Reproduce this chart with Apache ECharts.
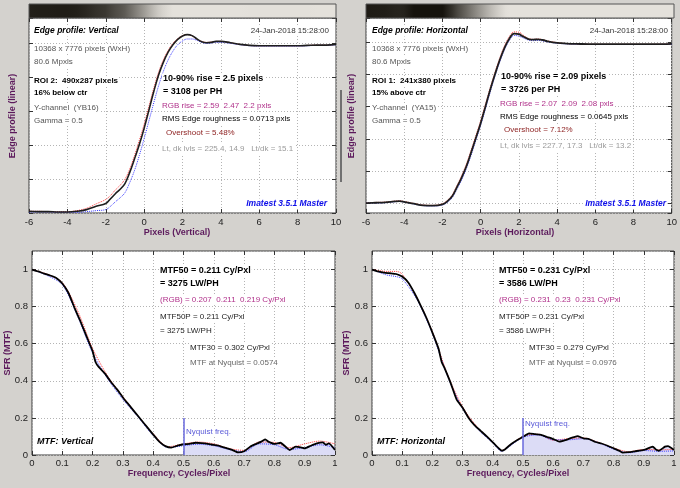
<!DOCTYPE html>
<html><head><meta charset="utf-8">
<script src="https://cdn.jsdelivr.net/npm/echarts@6/dist/echarts.min.js"></script>
<style>html,body{margin:0;padding:0;background:#d4d2ce;}#c{width:680px;height:488px;}</style>
</head><body><div id="c"></div>
<script>
// ---------- DATA ----------
// Edge profile, Vertical (ROI 2)
const edgeV_x = [-6,-5.5,-5,-4.5,-4,-3.5,-3,-2.5,-2,-1.75,-1.5,-1.25,-1,-0.75,-0.5,-0.25,0,0.25,0.5,0.75,1,1.25,1.5,1.75,2,2.25,2.5,2.75,3,3.25,3.5,3.75,4,4.5,5,5.5,6,6.5,7,7.5,8,8.5,9,9.5,10];
const edgeV_Y = [0.05,0.04,0.04,0.03,0.03,0.05,0.1,0.2,0.28,0.42,0.57,0.7,0.87,1.2,1.6,2.02,2.5,3.04,3.58,4.07,4.45,4.75,4.97,5.13,5.23,5.27,5.24,5.14,5.06,5.03,5.04,5.07,5.07,5.03,4.98,4.95,4.94,4.94,4.94,4.94,4.94,4.95,4.96,4.96,4.98];
const edgeV_R = [0.05,0.05,0.04,0.04,0.04,0.07,0.14,0.27,0.4,0.52,0.68,0.82,1.0,1.3,1.7,2.15,2.62,3.15,3.68,4.15,4.52,4.8,5.01,5.15,5.24,5.27,5.23,5.13,5.07,5.04,5.05,5.07,5.07,5.03,4.98,4.95,4.94,4.94,4.94,4.94,4.94,4.95,4.96,4.96,4.98];
const edgeV_B = [0.03,0.03,0.03,0.02,0.02,0.02,0.04,0.07,0.1,0.2,0.33,0.45,0.6,0.9,1.26,1.7,2.2,2.72,3.25,3.75,4.18,4.52,4.78,4.97,5.08,5.14,5.14,5.1,5.04,5.01,5.02,5.04,5.04,5.01,4.97,4.94,4.93,4.93,4.93,4.93,4.93,4.94,4.95,4.95,4.97];
// Edge profile, Horizontal (ROI 1)
const edgeH_x = [-6,-5.5,-5,-4.5,-4.25,-4,-3.5,-3,-2.5,-2,-1.75,-1.5,-1.25,-1,-0.75,-0.5,-0.25,0,0.25,0.5,0.75,1,1.25,1.5,1.75,2,2.25,2.5,2.75,3,3.25,3.5,4,4.5,5,6,7,8,9,10];
const edgeH_Y = [0.02,0.03,0.04,0.07,0.08,0.06,0.0,-0.05,-0.06,-0.02,0.07,0.22,0.5,0.8,1.15,1.58,2.03,2.49,3.0,3.52,4.0,4.44,4.82,5.1,5.26,5.24,5.16,5.09,5.07,5.08,5.06,5.02,4.97,4.95,4.94,4.93,4.93,4.93,4.93,4.94];
const edgeH_R = [0.03,0.04,0.05,0.08,0.09,0.07,0.01,-0.04,-0.05,0.0,0.1,0.26,0.55,0.86,1.22,1.65,2.1,2.56,3.07,3.58,4.06,4.5,4.88,5.16,5.31,5.3,5.2,5.11,5.08,5.09,5.07,5.03,4.98,4.95,4.94,4.93,4.93,4.93,4.93,4.94];
const edgeH_B = [0.02,0.02,0.03,0.06,0.07,0.05,-0.01,-0.06,-0.07,-0.04,0.04,0.18,0.44,0.73,1.08,1.5,1.96,2.42,2.93,3.45,3.94,4.38,4.76,5.04,5.2,5.18,5.12,5.06,5.04,5.05,5.03,5.0,4.96,4.94,4.93,4.92,4.92,4.92,4.92,4.93];
const edgeXTicks = [-6, 10, 2];

// MTF, Vertical
const mtfV_f = [0,0.02,0.04,0.06,0.08,0.1,0.12,0.14,0.16,0.18,0.19,0.2,0.21,0.22,0.24,0.26,0.28,0.3,0.32,0.34,0.36,0.38,0.4,0.42,0.44,0.46,0.48,0.5,0.52,0.54,0.56,0.58,0.6,0.62,0.64,0.66,0.68,0.7,0.72,0.74,0.76,0.77,0.78,0.8,0.82,0.84,0.85,0.87,0.89,0.9,0.92,0.94,0.96,0.97,0.98,1.0];
const mtfV_Y = [1.0,0.99,0.978,0.968,0.955,0.925,0.875,0.795,0.72,0.64,0.6,0.56,0.5,0.475,0.44,0.395,0.355,0.31,0.27,0.23,0.19,0.15,0.11,0.072,0.048,0.04,0.05,0.058,0.06,0.066,0.064,0.06,0.054,0.048,0.038,0.028,0.014,0.02,0.045,0.06,0.075,0.084,0.072,0.06,0.066,0.04,0.027,0.045,0.04,0.036,0.05,0.063,0.068,0.055,0.063,0.027];
const mtfV_rf = [0,0.05,0.1,0.15,0.2,0.25,0.3,0.35,0.4,0.45,0.5,0.55,0.6,0.65,0.7,0.75,0.8,0.85,0.9,0.95,1.0];
const mtfV_R = [1,0.975,0.93,0.78,0.575,0.425,0.315,0.21,0.115,0.045,0.06,0.07,0.06,0.035,0.025,0.07,0.068,0.04,0.06,0.075,0.06];
const mtfV_B = [1,0.968,0.918,0.75,0.55,0.41,0.3,0.205,0.105,0.04,0.05,0.058,0.05,0.03,0.018,0.06,0.055,0.03,0.04,0.055,0.04];

// MTF, Horizontal
const mtfH_f = [0,0.02,0.04,0.06,0.08,0.1,0.12,0.14,0.16,0.18,0.2,0.22,0.231,0.24,0.26,0.28,0.3,0.32,0.34,0.36,0.38,0.4,0.42,0.43,0.44,0.46,0.48,0.5,0.52,0.54,0.56,0.58,0.6,0.62,0.64,0.66,0.68,0.7,0.72,0.74,0.76,0.78,0.8,0.82,0.83,0.85,0.87,0.9,0.92,0.93,0.94,0.95,0.97,0.98,1.0];
const mtfH_Y = [1.0,0.99,0.983,0.98,0.976,0.962,0.93,0.875,0.81,0.74,0.66,0.575,0.5,0.47,0.39,0.3,0.255,0.2,0.16,0.13,0.1,0.068,0.035,0.023,0.03,0.058,0.08,0.098,0.117,0.112,0.108,0.097,0.086,0.072,0.08,0.092,0.102,0.09,0.085,0.07,0.062,0.05,0.036,0.022,0.013,0.015,0.02,0.027,0.04,0.045,0.03,0.023,0.045,0.048,0.027];
const mtfH_rf = [0,0.05,0.08,0.1,0.15,0.2,0.25,0.3,0.35,0.4,0.43,0.45,0.5,0.55,0.6,0.65,0.7,0.75,0.8,0.85,0.9,0.95,1.0];
const mtfH_R = [1,0.99,0.99,0.975,0.845,0.665,0.435,0.26,0.148,0.07,0.025,0.045,0.1,0.112,0.08,0.088,0.092,0.068,0.038,0.018,0.03,0.028,0.03];
const mtfH_B = [1,0.97,0.962,0.95,0.835,0.655,0.425,0.25,0.14,0.065,0.02,0.04,0.095,0.108,0.082,0.082,0.088,0.066,0.032,0.012,0.024,0.02,0.022];

const nyquist = 0.5;
const nyquistMarkTop = 0.2;

// ---------- HELPERS ----------
const FONT = '"Liberation Sans", Arial, Helvetica, sans-serif';
const zip = (a, b) => a.map((v, i) => [v, b[i]]);
const grids = [
  {left: 29, top: 18, width: 307, height: 195},
  {left: 366, top: 18, width: 308, height: 195},
  {left: 32, top: 251, width: 303, height: 204},
  {left: 372, top: 251, width: 302, height: 204}
];
const gridOpts = grids.map(g => Object.assign({show: true, borderColor: '#3a3a3a', borderWidth: 1, backgroundColor: '#ffffff', containLabel: false}, g));
const tick = {show: true, inside: true, length: 4, lineStyle: {color: '#333', width: 1}};
const split = {show: true, lineStyle: {color: '#b4b4b4', type: [1, 2], width: 1}};
const noLine = {show: false, onZero: false};

const xAxes = [], yAxes = [];
function addX(gi, min, max, interval, labelMargin) {
  xAxes.push({type: 'value', gridIndex: gi, min, max, interval, position: 'bottom',
    axisLine: noLine, axisTick: tick, splitLine: split,
    axisLabel: {show: true, color: '#222', fontSize: 9.5, fontFamily: FONT, margin: labelMargin}});
  xAxes.push({type: 'value', gridIndex: gi, min, max, interval, position: 'top',
    axisLine: noLine, axisTick: tick, splitLine: {show: false}, axisLabel: {show: false}});
  return xAxes.length - 2;
}
function addY(gi, min, max, step, showLabels) {
  const common = {type: 'value', gridIndex: gi, min, max, minInterval: step, maxInterval: step};
  yAxes.push(Object.assign({}, common, {position: 'left', axisLine: noLine, axisTick: tick, splitLine: split,
    axisLabel: {show: showLabels, color: '#222', fontSize: 9.5, fontFamily: FONT, margin: 4, showMaxLabel: false}}));
  yAxes.push(Object.assign({}, common, {position: 'right', axisLine: noLine, axisTick: tick, splitLine: {show: false}, axisLabel: {show: false}}));
  return yAxes.length - 2;
}

const x0 = addX(0, edgeXTicks[0], edgeXTicks[1], edgeXTicks[2], 4);
const y0 = addY(0, 0, 5.76, 1, false);
const x1 = addX(1, edgeXTicks[0], edgeXTicks[1], edgeXTicks[2], 4);
const y1 = addY(1, -0.287, 5.74, 1, false);
const x2 = addX(2, 0, 1, 0.1, 3);
const y2 = addY(2, 0, 1.1, 0.2, true);
const x3 = addX(3, 0, 1, 0.1, 3);
const y3 = addY(3, 0, 1.1, 0.2, true);

function lineS(xi, yi, data, color, width, type, z, smooth) {
  return {type: 'line', xAxisIndex: xi, yAxisIndex: yi, data, showSymbol: false, symbol: 'none',
    smooth: smooth, z, silent: true, animation: false,
    lineStyle: {color, width, type}};
}
function fillS(xi, yi, f, v) {
  const d = zip(f, v).filter(p => p[0] >= nyquist);
  return {type: 'line', xAxisIndex: xi, yAxisIndex: yi, data: d, showSymbol: false, symbol: 'none', z: 1,
    silent: true, animation: false, lineStyle: {width: 0, opacity: 0},
    areaStyle: {color: '#dcdcf6', opacity: 1},
    markLine: {symbol: 'none', silent: true, animation: false, label: {show: false},
      lineStyle: {color: '#6868dc', width: 1.5, type: 'solid'},
      data: [[{coord: [nyquist, 0]}, {coord: [nyquist, nyquistMarkTop]}]]}};
}

const series = [
  lineS(x0, y0, zip(edgeV_x, edgeV_R), '#ff3a3a', 1, 'dotted', 2, 0.4),
  lineS(x0, y0, zip(edgeV_x, edgeV_B), '#3a3aff', 1, 'dotted', 2, 0.4),
  lineS(x0, y0, zip(edgeV_x, edgeV_Y), '#1e1e1e', 1.6, 'solid', 3, 0.4),
  lineS(x1, y1, zip(edgeH_x, edgeH_R), '#ff3a3a', 1, 'dotted', 2, 0.4),
  lineS(x1, y1, zip(edgeH_x, edgeH_B), '#3a3aff', 1, 'dotted', 2, 0.4),
  lineS(x1, y1, zip(edgeH_x, edgeH_Y), '#1e1e1e', 1.8, 'solid', 3, 0.4),
  fillS(x2, y2, mtfV_f, mtfV_Y),
  lineS(x2, y2, zip(mtfV_rf, mtfV_R), '#ff3a3a', 1, 'dotted', 2, 0.3),
  lineS(x2, y2, zip(mtfV_rf, mtfV_B), '#3a3aff', 1, 'dotted', 2, 0.3),
  lineS(x2, y2, zip(mtfV_f, mtfV_Y), '#000000', 1.8, 'solid', 3, 0.15),
  fillS(x3, y3, mtfH_f, mtfH_Y),
  lineS(x3, y3, zip(mtfH_rf, mtfH_R), '#ff3a3a', 1, 'dotted', 2, 0.3),
  lineS(x3, y3, zip(mtfH_rf, mtfH_B), '#3a3aff', 1, 'dotted', 2, 0.3),
  lineS(x3, y3, zip(mtfH_f, mtfH_Y), '#000000', 1.8, 'solid', 3, 0.15)
];

// gradient bar (edge image) built from the edge profile
function barStops(xs, ys) {
  const xmin = xs[0], xmax = xs[xs.length - 1];
  const light = ys[ys.length - 1];
  return xs.map((x, i) => {
    const r = Math.max(0, Math.min(1, ys[i] / light));
    const c = 22 + 206 * Math.pow(r, 0.6);
    const cr = Math.round(c), cg = Math.round(c - 3), cb = Math.round(c - 9);
    return {offset: (x - xmin) / (xmax - xmin), color: 'rgb(' + cr + ',' + cg + ',' + Math.max(0, cb) + ')'};
  });
}
function bar(g, xs, ys) {
  return {type: 'rect', silent: true, z: 50, shape: {x: g.left, y: 4, width: g.width, height: 14},
    style: {fill: new echarts.graphic.LinearGradient(0, 0, 1, 0, barStops(xs, ys)), stroke: '#555', lineWidth: 1}};
}

// text inside plots (white box behind, like the original)
function T(x, y, text, font, fill, align) {
  const a = align || 'left';
  return {type: 'text', x: a === 'right' ? x + 1 : x - 1, y, silent: true, z: 100,
    style: {text, font, fill, align: a, verticalAlign: 'middle',
      textAlign: a, textVerticalAlign: 'middle',
      backgroundColor: '#ffffff', padding: [1, 1, 1, 1]}};
}
// axis names (outside plots)
function N(x, y, text, rot) {
  return {type: 'text', x, y, rotation: rot || 0, silent: true, z: 100,
    style: {text, font: 'bold 9px ' + FONT, fill: '#5c1a5c', align: 'center', verticalAlign: 'middle',
      textAlign: 'center', textVerticalAlign: 'middle'}};
}
const fR = '8px ' + FONT, fB = 'bold 8px ' + FONT, fBig = 'bold 9px ' + FONT,
  fTitle = 'italic bold 8.5px ' + FONT, fMtfT = 'italic bold 9px ' + FONT;
const cGray = '#555', cMag = '#b0308a', cRed = '#8b1c1c', cLt = '#9a9a9a', cBlue = '#0c0ce8';
const R90 = Math.PI / 2;

const graphic = [
  bar(grids[0], edgeV_x, edgeV_Y),
  bar(grids[1], edgeH_x, edgeH_Y),
  {type: 'rect', silent: true, z: 50, shape: {x: 340, y: 90, width: 2, height: 92}, style: {fill: '#707070'}},
  // top-left
  T(34, 31, 'Edge profile: Vertical', fTitle, '#000'),
  T(329, 31, '24-Jan-2018 15:28:00', fR, '#333', 'right'),
  T(34, 49, '10368 x 7776 pixels (WxH)', fR, cGray),
  T(34, 62, '80.6 Mpxls', fR, cGray),
  T(34, 81, 'ROI 2:  490x287 pixels', fB, '#000'),
  T(34, 93, '16% below ctr', fB, '#000'),
  T(34, 108, 'Y-channel  (YB16)', fR, cGray),
  T(34, 121, 'Gamma = 0.5', fR, cGray),
  T(163, 79, '10-90% rise = 2.5 pixels', fBig, '#000'),
  T(163, 92, '= 3108 per PH', fBig, '#000'),
  T(162, 106, 'RGB rise = 2.59  2.47  2.2 pxls', fR, cMag),
  T(162, 119, 'RMS Edge roughness = 0.0713 pxls', fR, '#000'),
  T(166, 133, 'Overshoot = 5.48%', fR, cRed),
  T(162, 149, 'Lt, dk lvls = 225.4, 14.9   Lt/dk = 15.1', fR, cLt),
  T(327, 204, 'Imatest 3.5.1 Master', fTitle, cBlue, 'right'),
  // top-right
  T(372, 31, 'Edge profile: Horizontal', fTitle, '#000'),
  T(668, 31, '24-Jan-2018 15:28:00', fR, '#333', 'right'),
  T(372, 49, '10368 x 7776 pixels (WxH)', fR, cGray),
  T(372, 62, '80.6 Mpxls', fR, cGray),
  T(372, 81, 'ROI 1:  241x380 pixels', fB, '#000'),
  T(372, 93, '15% above ctr', fB, '#000'),
  T(372, 108, 'Y-channel  (YA15)', fR, cGray),
  T(372, 121, 'Gamma = 0.5', fR, cGray),
  T(501, 77, '10-90% rise = 2.09 pixels', fBig, '#000'),
  T(501, 90, '= 3726 per PH', fBig, '#000'),
  T(500, 104, 'RGB rise = 2.07  2.09  2.08 pxls', fR, cMag),
  T(500, 117, 'RMS Edge roughness = 0.0645 pxls', fR, '#000'),
  T(504, 130, 'Overshoot = 7.12%', fR, cRed),
  T(500, 146, 'Lt, dk lvls = 227.7, 17.3   Lt/dk = 13.2', fR, cLt),
  T(666, 204, 'Imatest 3.5.1 Master', fTitle, cBlue, 'right'),
  // bottom-left
  T(160, 271, 'MTF50 = 0.211 Cy/Pxl', fBig, '#000'),
  T(160, 284, '= 3275 LW/PH', fBig, '#000'),
  T(160, 300, '(RGB) = 0.207  0.211  0.219 Cy/Pxl', fR, cMag),
  T(160, 317, 'MTF50P = 0.211 Cy/Pxl', fR, '#222'),
  T(160, 331, '= 3275 LW/PH', fR, '#222'),
  T(190, 348, 'MTF30 = 0.302 Cy/Pxl', fR, '#222'),
  T(190, 363, 'MTF at Nyquist = 0.0574', fR, '#666'),
  T(37, 442, 'MTF: Vertical', fMtfT, '#000'),
  T(186, 432, 'Nyquist freq.', fR, '#5a5ad8'),
  // bottom-right
  T(499, 271, 'MTF50 = 0.231 Cy/Pxl', fBig, '#000'),
  T(499, 284, '= 3586 LW/PH', fBig, '#000'),
  T(499, 300, '(RGB) = 0.231  0.23  0.231 Cy/Pxl', fR, cMag),
  T(499, 317, 'MTF50P = 0.231 Cy/Pxl', fR, '#222'),
  T(499, 331, '= 3586 LW/PH', fR, '#222'),
  T(529, 348, 'MTF30 = 0.279 Cy/Pxl', fR, '#222'),
  T(529, 363, 'MTF at Nyquist = 0.0976', fR, '#666'),
  T(377, 442, 'MTF: Horizontal', fMtfT, '#000'),
  T(525, 424, 'Nyquist freq.', fR, '#5a5ad8'),
  // axis names
  N(13, 116, 'Edge profile (linear)', R90),
  N(177, 233, 'Pixels (Vertical)'),
  N(352, 116, 'Edge profile (linear)', R90),
  N(515, 233, 'Pixels (Horizontal)'),
  N(8, 353, 'SFR (MTF)', R90),
  N(179, 474, 'Frequency, Cycles/Pixel'),
  N(347, 353, 'SFR (MTF)', R90),
  N(518, 474, 'Frequency, Cycles/Pixel')
];

const chart = echarts.init(document.getElementById('c'), null, {renderer: 'canvas'});
chart.setOption({
  backgroundColor: '#d4d2ce',
  animation: false,
  grid: gridOpts,
  xAxis: xAxes,
  yAxis: yAxes,
  series,
  graphic
});
</script></body></html>
